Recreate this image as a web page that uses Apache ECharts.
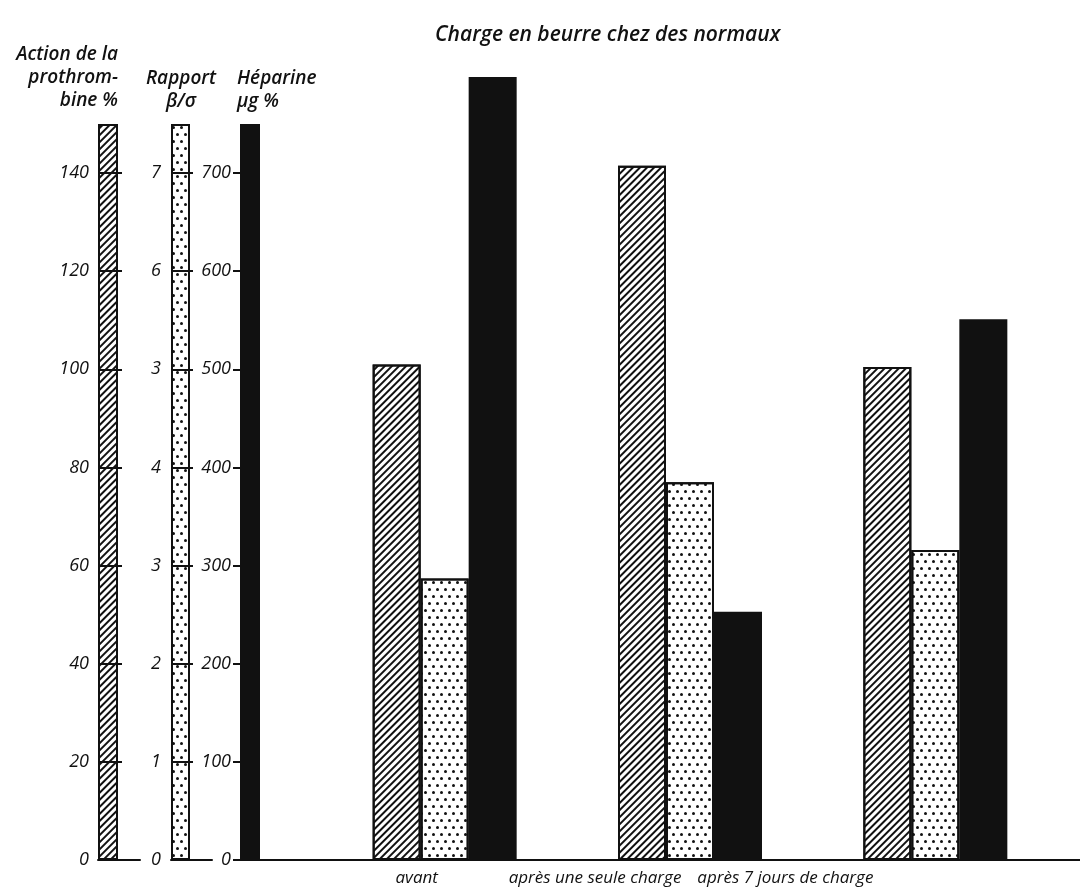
<!DOCTYPE html>
<html>
<head>
<meta charset="utf-8">
<script src="https://cdn.jsdelivr.net/npm/echarts@6/dist/echarts.min.js"></script>
<style>
  html, body { margin: 0; padding: 0; background: #fff; }
  #main { width: 1080px; height: 892px; }
</style>
</head>
<body>
<div id="main"></div>
<script>
// valeurs
const categories = ['avant', 'après une seule charge', 'après 7 jours de charge']
const prothrombine = [101, 141.5, 100.5]
const rapport = [2.87, 3.85, 3.16]
const heparine = [798, 253, 551]

// colonnes-échelles à gauche
const scaleProthrombine = 150
const scaleRapport = 7.5
const scaleHeparine = 750

const ticksProthrombine = [0, 20, 40, 60, 80, 100, 120, 140]
const ticksRapport = [0, 1, 2, 3, 4, 5, 6, 7]
const labelsRapport = ['0', '1', '2', '3', '4', '3', '6', '7']
const ticksHeparine = [0, 100, 200, 300, 400, 500, 600, 700]

const ink = '#111'
const font = '"Open Sans", "DejaVu Sans", sans-serif'

const hatch = {
  symbol: 'rect',
  symbolSize: 1,
  dashArrayX: [1, 0],
  dashArrayY: [1.6, 2.6],
  rotation: -Math.PI / 4,
  color: ink
}
const dots = {
  symbol: 'circle',
  symbolSize: 1,
  dashArrayX: [[2.5, 4.5], [0, 3.5, 2.5, 1]],
  dashArrayY: [2.5, 3.5],
  color: ink
}
const hatchStyle = { color: '#fff', borderColor: ink, borderWidth: 2, decal: hatch }
const dotStyle = { color: '#fff', borderColor: ink, borderWidth: 2, decal: dots }
const blackStyle = { color: ink }

const labelStyle = { color: ink, fontFamily: font, fontStyle: 'italic', fontSize: 18 }

function scaleX(grid, max) {
  return {
    gridIndex: grid, type: 'value', min: 0, max: max,
    axisLine: { show: true, onZero: false, lineStyle: { color: ink, width: 2 } },
    axisTick: { show: false }, axisLabel: { show: false }, splitLine: { show: false }
  }
}

function scaleY(grid, max, interval, ticks, opts) {
  return {
    gridIndex: grid, type: 'value', min: 0, max: max, interval: interval,
    offset: opts.offset, z: 3,
    axisLine: { show: false },
    axisTick: {
      show: true, inside: opts.inside, length: opts.length, customValues: ticks,
      lineStyle: { color: ink, width: 2 }
    },
    axisLabel: Object.assign({
      customValues: ticks, margin: opts.margin, formatter: opts.formatter
    }, labelStyle),
    splitLine: { show: false }
  }
}

const chart = echarts.init(document.getElementById('main'))

chart.setOption({
  animation: false,
  backgroundColor: '#fff',
  title: {
    text: 'Charge en beurre chez des normaux',
    left: 430, top: 20,
    textStyle: { color: ink, fontFamily: font, fontStyle: 'italic', fontWeight: 600, fontSize: 21 }
  },
  graphic: [
    {
      type: 'text', x: 118, y: 43,
      style: {
        text: 'Action de la\nprothrom-\nbine %', align: 'right', lineHeight: 23,
        fill: ink, font: 'italic 600 19px ' + font
      }
    },
    {
      type: 'text', x: 181, y: 67,
      style: {
        text: 'Rapport\nβ/σ', align: 'center', lineHeight: 23,
        fill: ink, font: 'italic 600 19px ' + font
      }
    },
    {
      type: 'text', x: 237, y: 67,
      style: {
        text: 'Héparine\nμg %', align: 'left', lineHeight: 23,
        fill: ink, font: 'italic 600 19px ' + font
      }
    }
  ],
  grid: [
    { left: 98, top: 124, width: 42, height: 736 },
    { left: 171, top: 124, width: 41, height: 736 },
    { left: 240, top: 124, width: 840, height: 736 },
    { left: 322, top: 75, width: 736, height: 785 }
  ],
  xAxis: [
    scaleX(0, 42),
    scaleX(1, 41),
    scaleX(2, 840),
    {
      gridIndex: 3, type: 'category',
      data: [
        { value: categories[0], textStyle: { padding: [0, 56, 0, 0] } },
        { value: categories[1], textStyle: { padding: [0, 190, 0, 0] } },
        { value: categories[2], textStyle: { padding: [0, 300, 0, 0] } }
      ],
      axisLine: { show: false }, axisTick: { show: false },
      axisLabel: Object.assign({}, labelStyle, { interval: 0, margin: 10, fontSize: 17 })
    }
  ],
  yAxis: [
    scaleY(0, scaleProthrombine, 20, ticksProthrombine, { offset: 4, inside: true, length: 24, margin: 5 }),
    scaleY(1, scaleRapport, 1, ticksRapport, {
      offset: 3, inside: true, length: 22, margin: 7,
      formatter: v => labelsRapport[ticksRapport.indexOf(v)]
    }),
    scaleY(2, scaleHeparine, 100, ticksHeparine, { offset: 0, inside: false, length: 7, margin: 9 }),
    { gridIndex: 3, type: 'value', min: 0, max: 160, show: false },
    { gridIndex: 3, type: 'value', min: 0, max: 8, show: false },
    { gridIndex: 3, type: 'value', min: 0, max: 800, show: false }
  ],
  series: [
    { type: 'bar', xAxisIndex: 0, yAxisIndex: 0, barWidth: 20, data: [[10, scaleProthrombine]], itemStyle: hatchStyle },
    { type: 'bar', xAxisIndex: 1, yAxisIndex: 1, barWidth: 19, data: [[9.5, scaleRapport]], itemStyle: dotStyle },
    { type: 'bar', xAxisIndex: 2, yAxisIndex: 2, barWidth: 20, data: [[10, scaleHeparine]], itemStyle: blackStyle },
    { type: 'bar', xAxisIndex: 3, yAxisIndex: 3, barWidth: 48, barGap: '0%', data: prothrombine, itemStyle: hatchStyle },
    { type: 'bar', xAxisIndex: 3, yAxisIndex: 4, barWidth: 48, barGap: '0%', data: rapport, itemStyle: dotStyle },
    { type: 'bar', xAxisIndex: 3, yAxisIndex: 5, barWidth: 48, barGap: '0%', data: heparine, itemStyle: blackStyle }
  ]
})
</script>
</body>
</html>
